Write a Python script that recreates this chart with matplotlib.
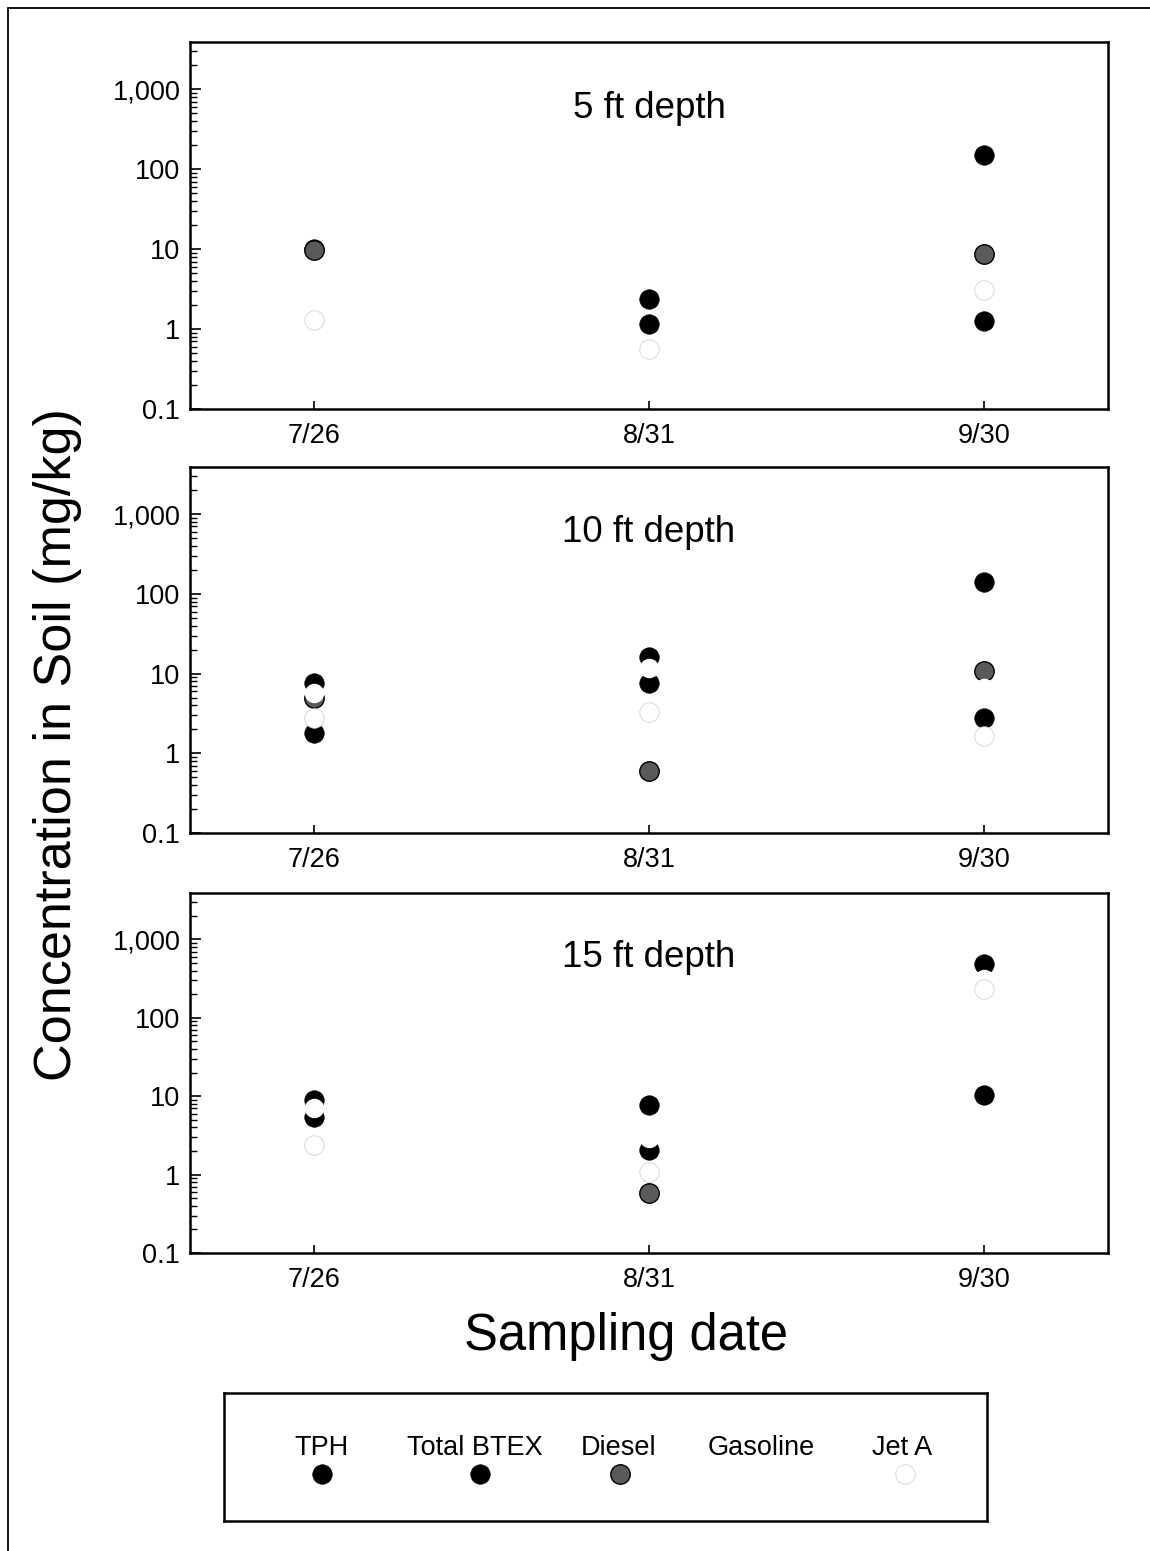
import numpy as np
import matplotlib
matplotlib.use("Agg")
import matplotlib.pyplot as plt
from matplotlib.ticker import FixedLocator, LogLocator, NullFormatter
from matplotlib.patches import Rectangle

plt.rcParams['font.family'] = ['Liberation Sans', 'DejaVu Sans']

nan = np.nan
dates = ['7/26', '8/31', '9/30']
depths = ['5 ft depth', '10 ft depth', '15 ft depth']
series = ['TPH', 'Total BTEX', 'Diesel', 'Gasoline', 'Jet A']

# concentrations in mg/kg, one list per date (7/26, 8/31, 9/30)
tph_5 = [10, 2.4, 150]
btex_5 = [nan, 1.15, 1.26]
diesel_5 = [9.7, nan, 8.6]
gasoline_5 = [nan, nan, nan]
jeta_5 = [1.3, 0.56, 3.1]

tph_10 = [7.7, 16, 142]
btex_10 = [1.8, 7.7, 2.8]
diesel_10 = [5.0, 0.6, 10.9]
gasoline_10 = [5.7, 11.9, 6.6]
jeta_10 = [2.8, 3.3, 1.64]

tph_15 = [8.9, 7.7, 480]
btex_15 = [5.4, 2.07, 10.3]
diesel_15 = [nan, 0.59, nan]
gasoline_15 = [7.0, 2.9, 310]
jeta_15 = [2.4, 1.09, 230]

panels = [
    [tph_5, btex_5, diesel_5, gasoline_5, jeta_5],
    [tph_10, btex_10, diesel_10, gasoline_10, jeta_10],
    [tph_15, btex_15, diesel_15, gasoline_15, jeta_15],
]

# marker styles per series: face, edge, edge width
styles = {
    'TPH': dict(mfc='black', mec='black', mew=0.5),
    'Total BTEX': dict(mfc='black', mec='black', mew=0.5),
    'Diesel': dict(mfc='#5a5a5a', mec='black', mew=1.0),
    'Gasoline': dict(mfc='white', mec='white', mew=0.0),
    'Jet A': dict(mfc='white', mec='#d2d2d2', mew=0.6),
}

fig = plt.figure(figsize=(11.5, 15.51), dpi=100)

# page border
fig.add_artist(Rectangle((0.007, -0.01), 1.1, 1.005, transform=fig.transFigure,
                         fill=False, lw=1.3, ec='black'))

boxes = [(0.1652, 0.7363, 0.7983, 0.2366),
         (0.1652, 0.4629, 0.7983, 0.2360),
         (0.1652, 0.1921, 0.7983, 0.2321)]
x = np.arange(len(dates))

for box, data, title in zip(boxes, panels, depths):
    ax = fig.add_axes(box)
    for name, vals in zip(series, data):
        ax.plot(x, vals, 'o', ms=14, zorder=3, **styles[name])
    ax.set_yscale('log')
    ax.set_ylim(0.1, 3900)
    ax.set_xlim(-0.37, 2.37)
    ax.set_xticks(x)
    ax.set_xticklabels(dates)
    ax.yaxis.set_major_locator(FixedLocator([0.1, 1, 10, 100, 1000]))
    ax.set_yticklabels(['0.1', '1', '10', '100', '1,000'])
    ax.yaxis.set_minor_locator(LogLocator(base=10, subs=np.arange(2, 10)))
    ax.yaxis.set_minor_formatter(NullFormatter())
    ax.tick_params(axis='both', which='major', direction='in', labelsize=19.5,
                   width=1.2, length=8)
    ax.tick_params(axis='y', which='minor', direction='in', width=1.0, length=5)
    ax.tick_params(axis='x', which='major', pad=10, length=6)
    ax.tick_params(axis='y', which='major', pad=7)
    for sp in ax.spines.values():
        sp.set_linewidth(1.8)
    ax.text(0.5, 0.82, title, transform=ax.transAxes, ha='center', va='center',
            fontsize=26.5)

fig.text(0.05, 0.52, 'Concentration in Soil (mg/kg)', rotation=90,
         ha='center', va='center', fontsize=37.5)
fig.text(0.544, 0.138, 'Sampling date', ha='center', va='center', fontsize=36.5)

# legend box
lax = fig.add_axes([224 / 1150, 1 - 1521 / 1551, (987 - 224) / 1150, (1521 - 1393) / 1551])
lax.set_xlim(0, 1)
lax.set_ylim(0, 1)
lax.set_xticks([])
lax.set_yticks([])
for sp in lax.spines.values():
    sp.set_linewidth(1.8)
label_x = [0.128, 0.329, 0.517, 0.704, 0.889]
marker_x = [0.128, 0.336, 0.519, None, 0.893]
for name, lx, mx in zip(series, label_x, marker_x):
    lax.text(lx, 0.57, name, ha='center', va='center', fontsize=19.5)
    if mx is not None:
        lax.plot([mx], [0.37], 'o', ms=14, **styles[name])

fig.savefig('out.png', dpi=100)
